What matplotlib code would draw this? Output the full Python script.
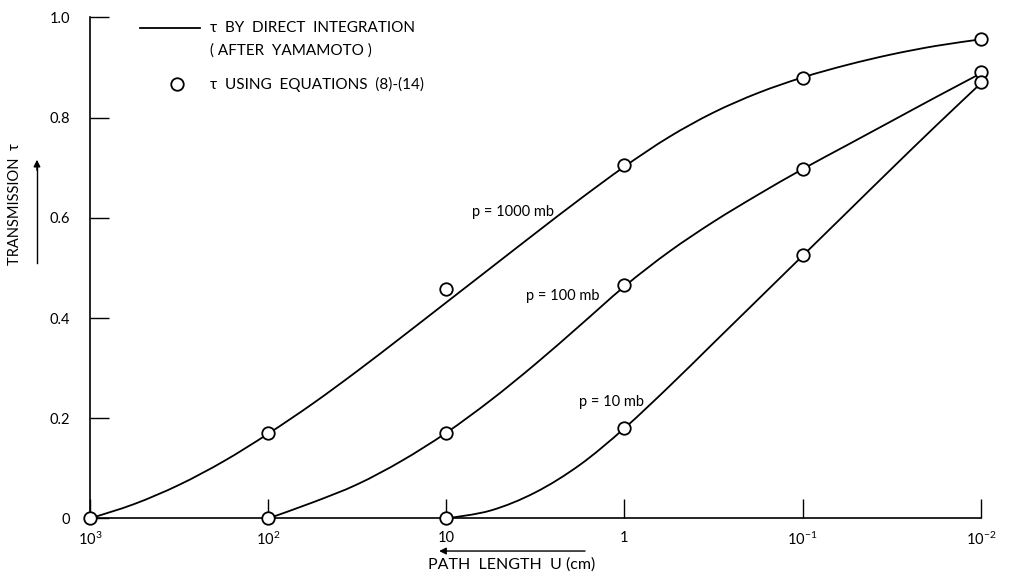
import matplotlib.pyplot as plt
from matplotlib.path import Path
from matplotlib.patches import PathPatch
import numpy as np

plt.rcParams['font.family'] = ['Lato', 'DejaVu Sans']
plt.rcParams['mathtext.default'] = 'regular'

# Path length U given as log10 exponents; curves
line_log_u_1000 = [3, 2.75, 2.5, 2.25, 2, 1.75, 1.5, 1.25, 1, 0.75, 0.5, 0.25, 0,
                   -0.25, -0.5, -0.75, -1, -1.25, -1.5, -1.75, -2]
line_tau_1000 = [0, 0.029, 0.067, 0.114, 0.169, 0.229, 0.294, 0.362, 0.431, 0.500,
                 0.569, 0.637, 0.702, 0.761, 0.810, 0.849, 0.880, 0.905, 0.926, 0.943, 0.956]

line_log_u_100 = [2, 1.75, 1.5, 1.25, 1, 0.75, 0.5, 0.25, 0,
                  -0.25, -0.5, -0.75, -1, -1.25, -1.5, -1.75, -2]
line_tau_100 = [0, 0.032, 0.068, 0.115, 0.171, 0.236, 0.308, 0.385, 0.463,
                0.532, 0.592, 0.646, 0.697, 0.745, 0.793, 0.841, 0.888]

line_log_u_10 = [1, 0.75, 0.5, 0.25, 0, -0.25, -0.5, -0.75, -1, -1.25, -1.5, -1.75, -2]
line_tau_10 = [0, 0.016, 0.052, 0.107, 0.180, 0.263, 0.350, 0.437, 0.524,
               0.611, 0.698, 0.784, 0.868]

# Circles: tau from equations (8)-(14)
pt_log_u_1000 = [3, 2, 1, 0, -1, -2]
pt_tau_1000 = [0, 0.171, 0.457, 0.705, 0.878, 0.956]
pt_log_u_100 = [2, 1, 0, -1, -2]
pt_tau_100 = [0, 0.171, 0.466, 0.698, 0.890]
pt_log_u_10 = [1, 0, -1, -2]
pt_tau_10 = [0, 0.181, 0.525, 0.870]

x_ticks = [3, 2, 1, 0, -1, -2]
x_tick_labels = ['$10^{3}$', '$10^{2}$', '10', '1', '$10^{-1}$', '$10^{-2}$']
y_ticks = [0, 0.2, 0.4, 0.6, 0.8, 1.0]
y_tick_labels = ['0', '0.2', '0.4', '0.6', '0.8', '1.0']


def smooth_path(xs, ys):
    # Catmull-Rom through the read points, drawn as cubic Bezier segments
    p = np.column_stack([xs, ys]).astype(float)
    p_ext = np.vstack([p[0], p, p[-1]])
    verts = [p[0]]
    codes = [Path.MOVETO]
    for i in range(len(p) - 1):
        a, b, c, d = p_ext[i], p_ext[i + 1], p_ext[i + 2], p_ext[i + 3]
        verts += [b + (c - a) / 6, c - (d - b) / 6, c]
        codes += [Path.CURVE4] * 3
    return Path(verts, codes)


fig = plt.figure(figsize=(10.1, 5.77), dpi=100)
ax = fig.add_axes([0.089, 0.1014, 0.882, 0.8686])

lines = [(line_log_u_1000, line_tau_1000), (line_log_u_100, line_tau_100),
         (line_log_u_10, line_tau_10)]
for lu, t in lines:
    ax.add_patch(PathPatch(smooth_path(lu, t), fc='none', ec='black', lw=1.3,
                           clip_on=False))

pts = [(pt_log_u_1000, pt_tau_1000), (pt_log_u_100, pt_tau_100), (pt_log_u_10, pt_tau_10)]
for lu, t in pts:
    ax.plot(lu, t, 'o', ms=9, mfc='white', mec='black', mew=1.3, clip_on=False, zorder=5)

ax.set_xlim(3, -2)
ax.set_ylim(0, 1.0)
ax.set_xticks(x_ticks)
ax.set_xticklabels(x_tick_labels)
ax.set_yticks(y_ticks)
ax.set_yticklabels(y_tick_labels)
ax.tick_params(axis='both', direction='in', length=14, width=1.0, labelsize=10.5)
ax.tick_params(axis='x', pad=9)
ax.tick_params(axis='y', pad=14)
for s in ['top', 'right']:
    ax.spines[s].set_visible(False)
for s in ['left', 'bottom']:
    ax.spines[s].set_linewidth(1.2)

# curve labels
ax.text(0.626, 0.611, 'p = 1000 mb', fontsize=10.5, ha='center', va='center')
ax.text(0.346, 0.443, 'p = 100 mb', fontsize=10.5, ha='center', va='center')
ax.text(0.071, 0.233, 'p = 10 mb', fontsize=10.5, ha='center', va='center')

# legend drawn by hand
fig.add_artist(plt.Line2D([0.139, 0.198], [0.951, 0.951], color='black', lw=1.3))
fig.text(0.208, 0.951, 'τ  BY  DIRECT  INTEGRATION', fontsize=11, va='center')
fig.text(0.208, 0.913, '( AFTER  YAMAMOTO )', fontsize=11, va='center')
fig.add_artist(plt.Line2D([0.175], [0.854], marker='o', ms=9, mfc='white',
                          mec='black', mew=1.3))
fig.text(0.208, 0.854, 'τ  USING  EQUATIONS  (8)-(14)', fontsize=11, va='center')

# axis labels with arrows
fig.text(0.015, 0.646, 'TRANSMISSION  τ', rotation=90, fontsize=10.5,
         ha='center', va='center')
fig.add_artist(plt.Line2D([0.0366, 0.0366], [0.544, 0.71], color='black', lw=1.0))
ax.annotate('', xy=(0.0366, 0.728), xytext=(0.0366, 0.70), xycoords='figure fraction',
            arrowprops=dict(arrowstyle='-|>', color='black', lw=1.0, mutation_scale=10))
fig.text(0.507, 0.022, 'PATH  LENGTH  U (cm)', fontsize=11.5, ha='center', va='center')
ax.annotate('', xy=(0.432, 0.045), xytext=(0.582, 0.045), xycoords='figure fraction',
            arrowprops=dict(arrowstyle='-|>', color='black', lw=1.0, mutation_scale=10))

fig.savefig('out.png', dpi=100)
